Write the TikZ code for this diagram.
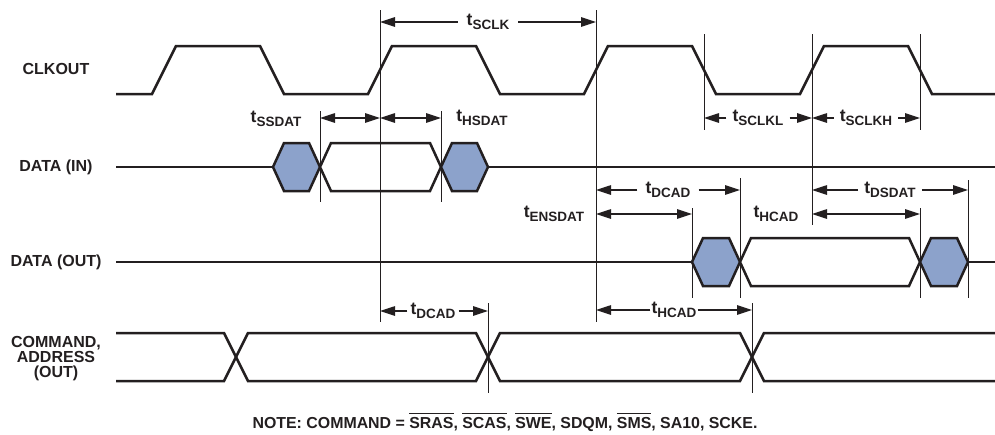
\documentclass[tikz,border=0pt]{standalone}
\usepackage{fontspec}
\setmainfont{Liberation Sans}
\usetikzlibrary{arrows.meta}
\definecolor{ink}{RGB}{35,31,32}
\definecolor{hexfill}{RGB}{140,162,203}
\newcommand\tlab[1]{{\fontsize{17.5}{17}\selectfont t}\raisebox{-4pt}{\fontsize{13.5}{13}\selectfont #1}}
\newcommand\ovl[1]{\setbox0\hbox{#1}\rlap{\rule[14pt]{\wd0}{1.2pt}}\box0}
\begin{document}
\begin{tikzpicture}[x=1pt,y=-1pt,
 every node/.style={text=ink},
 wave/.style={line width=2.5pt, draw=ink, line join=miter},
 vline/.style={line width=0.9pt, ink},
 dim/.style={line width=1.2pt, ink},
 arr/.style={dim, -{Triangle[length=15pt,width=9.5pt]}},
 darr/.style={dim, {Triangle[length=15pt,width=9.5pt]}-{Triangle[length=15pt,width=9.5pt]}},
 sig/.style={font=\bfseries\fontsize{16}{15}\selectfont, align=center, anchor=base},
 tl/.style={font=\bfseries, inner sep=0pt, inner xsep=6pt},
 hexa/.style={wave, fill=hexfill},
 dbox/.style={wave, fill=white}]
\useasboundingbox (0,0) rectangle (995,434);

% signal names
\node[sig] (lclk) at (56,74) {CLKOUT};
\node[sig] (ldin) at (56,171) {DATA (IN)};
\node[sig] (ldout) at (56,266) {DATA (OUT)};
\node[sig] (lcmd) at (56,377) {COMMAND,\\ADDRESS\\(OUT)};

% CLKOUT
\draw[wave] (116,94) -- (152,94) -- (176,46) -- (260,46) -- (284,94) -- (368,94) -- (392,46)
 -- (476,46) -- (500,94) -- (584,94) -- (608,46) -- (692,46) -- (716,94) -- (800,94)
 -- (824,46) -- (908,46) -- (932,94) -- (995,94);

% DATA (IN)
\draw[wave] (116,167) -- (273,167);
\draw[hexa] (273,167) -- (284,143) -- (309,143) -- (320,167) -- (309,191) -- (284,191) -- cycle;
\draw[dbox] (320,167) -- (331,143) -- (430,143) -- (441,167) -- (430,191) -- (331,191) -- cycle;
\draw[hexa] (441,167) -- (452,143) -- (477,143) -- (488,167) -- (477,191) -- (452,191) -- cycle;
\draw[wave] (488,167) -- (995,167);

% DATA (OUT)
\draw[wave] (116,262) -- (692,262);
\draw[hexa] (692,262) -- (703,238) -- (729,238) -- (740,262) -- (729,286) -- (703,286) -- cycle;
\draw[dbox] (740,262) -- (751,238) -- (909,238) -- (920,262) -- (909,286) -- (751,286) -- cycle;
\draw[hexa] (920,262) -- (931,238) -- (957,238) -- (968,262) -- (957,286) -- (931,286) -- cycle;
\draw[wave] (968,262) -- (995,262);

% COMMAND, ADDRESS
\draw[wave] (116,333) -- (224,333) -- (248,381) -- (476,381) -- (500,333) -- (740,333) -- (764,381) -- (995,381);
\draw[wave] (116,381) -- (224,381) -- (248,333) -- (476,333) -- (500,381) -- (740,381) -- (764,333) -- (995,333);

% vertical reference lines
\coordinate (v1t) at (380,10);  \coordinate (v1b) at (380,322);
\coordinate (v2t) at (596,10);  \coordinate (v2b) at (596,322);
\coordinate (v3t) at (704,34);  \coordinate (v3b) at (704,130);
\coordinate (v4t) at (812,34);  \coordinate (v4b) at (812,225);
\coordinate (v5t) at (920,34);  \coordinate (v5b) at (920,130);
\coordinate (v6t) at (320,111); \coordinate (v6b) at (320,202);
\coordinate (v7t) at (441,111); \coordinate (v7b) at (441,202);
\coordinate (v8t) at (692,208); \coordinate (v8b) at (692,298);
\coordinate (v9t) at (740,178); \coordinate (v9b) at (740,298);
\coordinate (v10t) at (920,208); \coordinate (v10b) at (920,298);
\coordinate (v11t) at (968,180); \coordinate (v11b) at (968,298);
\coordinate (v12t) at (488,303); \coordinate (v12b) at (488,393);
\coordinate (v13t) at (752,303); \coordinate (v13b) at (752,393);
\foreach \v in {v1,v2,v3,v4,v5,v6,v7,v8,v9,v10,v11,v12,v13}
  \draw[vline] (\v t) -- (\v b);

% timing labels
\node[tl, inner xsep=9pt] (tsclk) at (488,22) {\tlab{SCLK}};
\node[tl] (tssdat) at (276,119) {\tlab{SSDAT}};
\node[tl] (thsdat) at (482,118) {\tlab{HSDAT}};
\node[tl] (tsclkl) at (758,118) {\tlab{SCLKL}};
\node[tl] (tsclkh) at (866,118) {\tlab{SCLKH}};
\node[tl, inner xsep=8pt] (tdcada) at (668,190) {\tlab{DCAD}};
\node[tl] (tensdat) at (554,214) {\tlab{ENSDAT}};
\node[tl] (thcada) at (776,214) {\tlab{HCAD}};
\node[tl] (tdsdat) at (890,190) {\tlab{DSDAT}};
\node[tl, inner xsep=3pt] (tdcadb) at (433,311) {\tlab{DCAD}};
\node[tl, inner xsep=1pt] (thcadb) at (674,310) {\tlab{HCAD}};

% dimension arrows
\draw[arr] (tsclk.west) -- (tsclk.west -| v1t);
\draw[arr] (tsclk.east) -- (tsclk.east -| v2t);
\coordinate (s1) at (320,118); \coordinate (s2) at (380,118); \coordinate (s3) at (441,118);
\draw[darr] (s1) -- (s2);
\draw[darr] (s2) -- (s3);
\draw[arr] (tsclkl.west) -- (tsclkl.west -| v3t);
\draw[arr] (tsclkl.east) -- (tsclkl.east -| v4t);
\draw[arr] (tsclkh.west) -- (tsclkh.west -| v4t);
\draw[arr] (tsclkh.east) -- (tsclkh.east -| v5t);
\draw[arr] (tdcada.west) -- (tdcada.west -| v2t);
\draw[arr] (tdcada.east) -- (tdcada.east -| v9t);
\coordinate (e1) at (596,214); \coordinate (e2) at (692,214);
\draw[darr] (e1) -- (e2);
\coordinate (h1) at (812,214); \coordinate (h2) at (920,214);
\draw[darr] (h1) -- (h2);
\draw[arr] (tdsdat.west) -- (tdsdat.west -| v4t);
\draw[arr] (tdsdat.east) -- (tdsdat.east -| v11t);
\draw[arr] (tdcadb.west) -- (tdcadb.west -| v1t);
\draw[arr] (tdcadb.east) -- (tdcadb.east -| v12t);
\draw[arr] (thcadb.west) -- (thcadb.west -| v2t);
\draw[arr] (thcadb.east) -- (thcadb.east -| v13t);

% note
\node[font=\bfseries\fontsize{15.9}{16}\selectfont, anchor=base] (note) at (505,428)
 {NOTE: COMMAND = \ovl{SRAS}, \ovl{SCAS}, \ovl{SWE}, SDQM, \ovl{SMS}, SA10, SCKE.};
\end{tikzpicture}
\end{document}
